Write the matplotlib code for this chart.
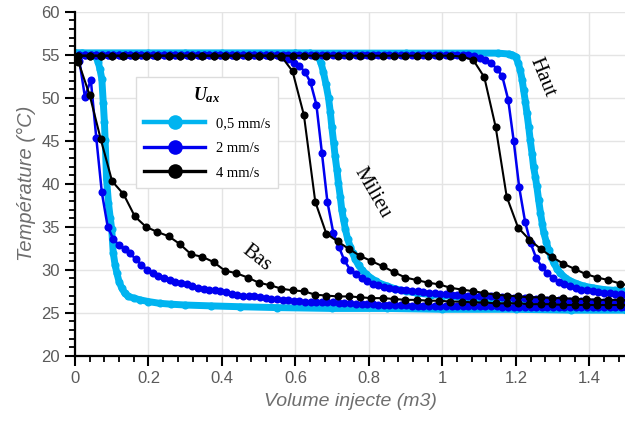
import matplotlib
matplotlib.use("Agg")
import matplotlib.pyplot as plt
from matplotlib.lines import Line2D
from matplotlib.ticker import MultipleLocator

plt.rcParams['mathtext.fontset'] = 'custom'
plt.rcParams['mathtext.it'] = 'Liberation Serif:italic:bold'
plt.rcParams['mathtext.rm'] = 'Liberation Serif:bold'

# ---- data ----
# 4 mm/s : volume samples
vol_4 = [0.009, 0.040, 0.070, 0.101, 0.132, 0.163, 0.193, 0.224, 0.255, 0.285,
         0.316, 0.347, 0.377, 0.408, 0.439, 0.470, 0.500, 0.531, 0.562, 0.592,
         0.623, 0.654, 0.684, 0.715, 0.746, 0.777, 0.807, 0.838, 0.869, 0.899,
         0.930, 0.961, 0.991, 1.022, 1.053, 1.084, 1.114, 1.145, 1.175, 1.206,
         1.237, 1.268, 1.298, 1.329, 1.360, 1.390, 1.421, 1.452, 1.483, 1.513]
t4_bas = [54.2, 50.3, 45.2, 40.3, 38.8, 36.2, 35.0, 34.4, 33.9, 33.0,
          31.8, 31.5, 30.9, 29.9, 29.6, 29.1, 28.5, 28.2, 27.8, 27.6,
          27.5, 27.1, 27.0, 26.9, 26.9, 26.8, 26.7, 26.7, 26.6, 26.5,
          26.5, 26.4, 26.4, 26.3, 26.3, 26.2, 26.2, 26.1, 26.1, 26.1,
          26.0, 26.0, 26.0, 25.9, 25.9, 25.9, 25.9, 25.9, 25.9, 25.9]
t4_milieu = [54.9, 54.9, 54.9, 54.9, 54.9, 54.9, 54.9, 54.9, 54.9, 54.9,
             54.9, 54.9, 54.9, 54.9, 54.9, 54.9, 54.9, 54.9, 54.8, 53.1,
             48.0, 37.9, 34.2, 33.3, 32.4, 31.6, 31.0, 30.4, 29.7, 29.1,
             28.8, 28.5, 28.3, 27.9, 27.7, 27.5, 27.3, 27.1, 27.0, 26.9,
             26.8, 26.8, 26.7, 26.7, 26.6, 26.6, 26.5, 26.5, 26.5, 26.4]
t4_haut = [54.9, 54.9, 54.9, 54.9, 54.9, 54.9, 54.9, 54.9, 54.9, 54.9,
           54.9, 54.9, 54.9, 54.9, 54.9, 54.9, 54.9, 54.9, 54.9, 54.9,
           54.9, 54.9, 54.9, 54.9, 54.9, 54.9, 54.9, 54.9, 54.9, 54.9,
           54.9, 54.9, 54.9, 54.9, 54.8, 54.4, 52.4, 46.6, 38.5, 34.9,
           33.5, 32.4, 31.5, 30.7, 30.1, 29.5, 29.1, 28.8, 28.4, 28.1]

# 2 mm/s : volume samples
vol_2 = [0.012, 0.027, 0.043, 0.058, 0.073, 0.089, 0.104, 0.119, 0.135, 0.150,
         0.166, 0.181, 0.196, 0.212, 0.227, 0.242, 0.258, 0.273, 0.288, 0.304,
         0.319, 0.334, 0.350, 0.365, 0.380, 0.396, 0.411, 0.426, 0.442, 0.457,
         0.473, 0.488, 0.503, 0.519, 0.534, 0.549, 0.565, 0.580, 0.595, 0.611,
         0.626, 0.641, 0.657, 0.672, 0.687, 0.703, 0.718, 0.733, 0.749, 0.764,
         0.780, 0.795, 0.810, 0.826, 0.841, 0.856, 0.872, 0.887, 0.902, 0.918,
         0.933, 0.948, 0.964, 0.979, 0.994, 1.010, 1.025, 1.040, 1.056, 1.071,
         1.087, 1.102, 1.117, 1.133, 1.148, 1.163, 1.179, 1.194, 1.209, 1.225,
         1.240, 1.255, 1.271, 1.286, 1.301, 1.317, 1.332, 1.347, 1.363, 1.378,
         1.393, 1.409, 1.424, 1.440, 1.455, 1.470, 1.486, 1.501]
t2_bas = [54.3, 50.1, 52.1, 45.3, 39.0, 35.0, 33.6, 32.9, 32.4, 31.9,
          31.2, 30.6, 30.0, 29.6, 29.3, 29.1, 28.8, 28.6, 28.5, 28.3,
          28.1, 27.9, 27.8, 27.7, 27.6, 27.5, 27.4, 27.2, 27.1, 27.0,
          26.9, 26.9, 26.8, 26.7, 26.6, 26.6, 26.5, 26.5, 26.4, 26.4,
          26.3, 26.3, 26.3, 26.2, 26.2, 26.2, 26.1, 26.1, 26.1, 26.0,
          26.0, 26.0, 26.0, 25.9, 25.9, 25.9, 25.9, 25.9, 25.9, 25.8,
          25.8, 25.8, 25.8, 25.8, 25.8, 25.8, 25.8, 25.8, 25.8, 25.8,
          25.8, 25.8, 25.8, 25.8, 25.8, 25.7, 25.7, 25.7, 25.7, 25.7,
          25.7, 25.7, 25.7, 25.7, 25.7, 25.7, 25.7, 25.7, 25.7, 25.7,
          25.7, 25.7, 25.7, 25.7, 25.7, 25.7, 25.7, 25.7]
t2_milieu = [55.0, 55.0, 55.0, 55.0, 55.0, 55.0, 55.0, 55.0, 55.0, 55.0,
             55.0, 55.0, 55.0, 55.0, 55.0, 55.0, 55.0, 55.0, 55.0, 55.0,
             55.0, 55.0, 55.0, 55.0, 55.0, 55.0, 55.0, 55.0, 55.0, 55.0,
             55.0, 55.0, 55.0, 55.0, 55.0, 55.0, 54.8, 54.5, 54.1, 53.7,
             53.0, 51.8, 49.2, 43.6, 37.9, 34.3, 32.7, 31.1, 30.0, 29.5,
             29.0, 28.7, 28.4, 28.2, 28.0, 27.9, 27.8, 27.7, 27.6, 27.5,
             27.5, 27.4, 27.3, 27.3, 27.2, 27.2, 27.1, 27.1, 27.0, 27.0,
             27.0, 26.9, 26.9, 26.9, 26.8, 26.8, 26.8, 26.7, 26.7, 26.7,
             26.6, 26.6, 26.6, 26.5, 26.5, 26.5, 26.5, 26.4, 26.4, 26.4,
             26.4, 26.3, 26.3, 26.3, 26.3, 26.3, 26.3, 26.3]
t2_haut = [55.0, 55.0, 55.0, 55.0, 55.0, 55.0, 55.0, 55.0, 55.0, 55.0,
           55.0, 55.0, 55.0, 55.0, 55.0, 55.0, 55.0, 55.0, 55.0, 55.0,
           55.0, 55.0, 55.0, 55.0, 55.0, 55.0, 55.0, 55.0, 55.0, 55.0,
           55.0, 55.0, 55.0, 55.0, 55.0, 55.0, 55.0, 55.0, 55.0, 55.0,
           55.0, 55.0, 55.0, 55.0, 55.0, 55.0, 55.0, 55.0, 55.0, 55.0,
           55.0, 55.0, 55.0, 55.0, 55.0, 55.0, 55.0, 55.0, 55.0, 55.0,
           55.0, 55.0, 55.0, 55.0, 55.0, 55.0, 55.0, 55.0, 55.0, 55.0,
           54.9, 54.6, 54.4, 54.0, 53.4, 52.5, 49.8, 45.0, 39.6, 35.6,
           33.1, 31.4, 30.3, 29.6, 29.0, 28.6, 28.3, 28.1, 27.9, 27.7,
           27.6, 27.5, 27.4, 27.3, 27.3, 27.2, 27.2, 27.1]

# 0.5 mm/s : very dense sampling, read along the band
v05_bas = [0.0, 0.02, 0.04, 0.055, 0.063, 0.068, 0.073, 0.077, 0.080, 0.082,
           0.086, 0.091, 0.096, 0.100, 0.104, 0.109, 0.114, 0.120, 0.127, 0.135,
           0.145, 0.160, 0.177, 0.20, 0.23, 0.26, 0.30, 0.37, 0.45, 0.55,
           0.70, 0.85, 1.0, 1.2, 1.35, 1.5]
t05_bas = [55.2, 55.2, 55.1, 54.9, 54.2, 53.3, 52.2, 49.4, 47.2, 45.1,
           40.5, 37.8, 36.0, 34.7, 32.0, 30.6, 29.6, 28.6, 27.9, 27.3,
           26.9, 26.7, 26.5, 26.3, 26.1, 26.0, 25.9, 25.8, 25.7, 25.6,
           25.5, 25.5, 25.4, 25.4, 25.3, 25.3]
v05_milieu = [0.0, 0.2, 0.4, 0.6, 0.64, 0.655, 0.663, 0.670, 0.676, 0.683,
              0.690, 0.695, 0.699, 0.704, 0.708, 0.713, 0.717, 0.722, 0.726, 0.731,
              0.736, 0.742, 0.749, 0.756, 0.763, 0.772, 0.781, 0.792, 0.804, 0.818,
              0.831, 0.85, 0.87, 0.90, 0.93, 0.97, 1.0, 1.05, 1.1, 1.2,
              1.3, 1.4, 1.5]
t05_milieu = [55.2, 55.2, 55.2, 55.2, 55.2, 55.0, 54.7, 54.0, 53.0, 51.6,
              50.0, 48.3, 46.6, 44.8, 43.2, 41.6, 40.1, 38.5, 37.0, 35.8,
              34.7, 33.6, 32.7, 31.9, 31.2, 30.5, 30.0, 29.5, 29.1, 28.7,
              28.4, 28.1, 27.8, 27.5, 27.3, 27.1, 27.0, 26.8, 26.7, 26.5,
              26.3, 26.2, 26.1]
v05_haut = [0.0, 0.3, 0.6, 0.9, 1.15, 1.18, 1.19, 1.199, 1.206, 1.212,
            1.217, 1.221, 1.226, 1.230, 1.235, 1.239, 1.244, 1.248, 1.253, 1.257,
            1.262, 1.267, 1.272, 1.276, 1.283, 1.289, 1.296, 1.303, 1.312, 1.321,
            1.334, 1.348, 1.365, 1.385, 1.41, 1.439, 1.47, 1.5]
t05_haut = [55.2, 55.2, 55.2, 55.2, 55.2, 55.1, 55.0, 54.8, 54.1, 53.2,
            52.1, 50.9, 49.5, 48.2, 46.6, 45.1, 43.5, 42.0, 40.8, 39.7,
            38.1, 36.6, 35.3, 34.3, 33.2, 32.3, 31.5, 30.8, 30.1, 29.6,
            29.1, 28.7, 28.4, 28.1, 27.9, 27.7, 27.6, 27.5]

speeds = ['0,5 mm/s', '2 mm/s', '4 mm/s']
colors = ['#00b4f0', '#0000f0', '#000000']

fig = plt.figure(figsize=(6.25, 4.23), dpi=100)
ax = fig.add_axes([0.12, 0.159, 0.88, 0.813])

for v, t in [(v05_bas, t05_bas), (v05_milieu, t05_milieu), (v05_haut, t05_haut)]:
    ax.plot(v, t, color=colors[0], lw=5.0, marker='o', ms=5.8, mew=0, solid_capstyle='round')
for t in [t2_bas, t2_milieu, t2_haut]:
    ax.plot(vol_2, t, color=colors[1], lw=1.8, marker='o', ms=5.8, mew=0)
for t in [t4_bas, t4_milieu, t4_haut]:
    ax.plot(vol_4, t, color=colors[2], lw=1.5, marker='o', ms=5.8, mew=0)

ax.set_xlim(0, 1.497)
ax.set_ylim(20, 60)
ax.xaxis.set_minor_locator(MultipleLocator(0.04))
ax.yaxis.set_major_locator(MultipleLocator(5))
ax.yaxis.set_minor_locator(MultipleLocator(1))
ax.set_xticks([0, 0.2, 0.4, 0.6, 0.8, 1.0, 1.2, 1.4])
ax.set_xticklabels(['0', '0.2', '0.4', '0.6', '0.8', '1', '1.2', '1.4'])
ax.grid(True, which='major', color='#e4e4e4', lw=1.0)
ax.set_axisbelow(True)
for s in ['top', 'right']:
    ax.spines[s].set_visible(False)
for s in ['left', 'bottom']:
    ax.spines[s].set_linewidth(1.6)
ax.tick_params(which='major', direction='out', length=7, width=1.5, colors='black',
               labelcolor='#5a5a5a', labelsize=12, pad=4)
ax.tick_params(which='minor', direction='out', length=4.5, width=1.3, colors='black')
for lab in ax.get_xticklabels() + ax.get_yticklabels():
    lab.set_family('Liberation Sans')

ax.set_xlabel('Volume injecte (m3)', fontsize=14, style='italic', color='#6e6e6e',
              family='Liberation Sans', labelpad=5)
ax.set_ylabel('Température (°C)', fontsize=14.5, style='italic', color='#6e6e6e',
              family='Liberation Sans', labelpad=4)

# location labels
ax.text(1.271, 52.4, 'Haut', family='Liberation Serif', fontsize=15, rotation=-68,
        ha='center', va='center', rotation_mode='anchor')
ax.text(0.809, 39.0, 'Milieu', family='Liberation Serif', fontsize=15, rotation=-60,
        ha='center', va='center', rotation_mode='anchor')
ax.text(0.493, 31.3, 'Bas', family='Liberation Serif', fontsize=15, rotation=-38,
        ha='center', va='center', rotation_mode='anchor')

handles = [Line2D([0], [0], color=colors[0], lw=3.2, marker='o', ms=10.5, mew=0),
           Line2D([0], [0], color=colors[1], lw=2.4, marker='o', ms=10.5, mew=0),
           Line2D([0], [0], color=colors[2], lw=2.4, marker='o', ms=10.5, mew=0)]
leg = ax.legend(handles, speeds, title='$U_{ax}$', loc='upper left',
                bbox_to_anchor=(0.111, 0.81), borderaxespad=0, fancybox=False,
                edgecolor='#dcdcdc', framealpha=1, handlelength=4.2,
                labelspacing=0.8, borderpad=0.55, handletextpad=0.7,
                prop={'family': 'Liberation Serif', 'size': 10.5},
                title_fontproperties={'size': 13})
leg.get_frame().set_linewidth(1.0)

fig.savefig('out.png', dpi=100)
